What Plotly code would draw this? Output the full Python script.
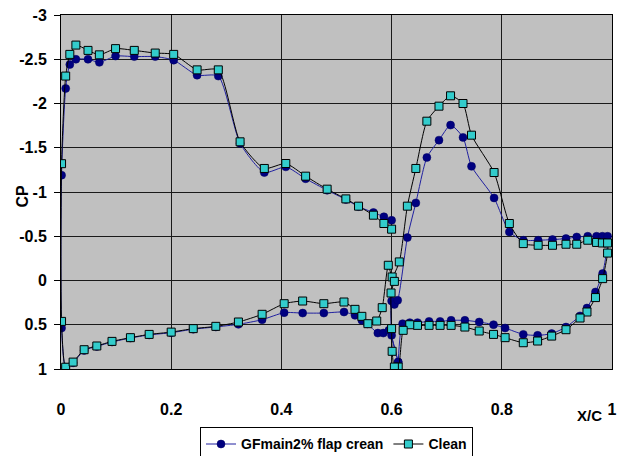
import plotly.graph_objects as go

# Pressure distribution (Cp vs x/c) on a two-element section: main element + flap.
# Each series is one continuous path: main upper (TE->LE), main lower (LE->TE), then the flap.

gf_x = [0.600, 0.586, 0.567, 0.540, 0.517, 0.483, 0.444, 0.408, 0.369, 0.325, 0.2855, 0.247,
        0.2045, 0.171, 0.133, 0.099, 0.0696, 0.049, 0.027, 0.016, 0.0085, 0.001,
        0.001, 0.0085, 0.022, 0.042, 0.065, 0.0926, 0.126, 0.160, 0.200, 0.240, 0.281, 0.322,
        0.365, 0.405, 0.4386, 0.477, 0.5136, 0.5336, 0.546, 0.556, 0.575, 0.585, 0.595,
        0.612, 0.600, 0.600, 0.605, 0.611, 0.6286, 0.644, 0.664, 0.686, 0.707, 0.7296, 0.745,
        0.786, 0.8137, 0.839, 0.866, 0.892, 0.9165, 0.936, 0.956, 0.972, 0.9825, 0.992,
        0.983, 0.970, 0.9546, 0.942, 0.9165, 0.8905, 0.865, 0.839, 0.806, 0.785, 0.759, 0.733,
        0.708, 0.688, 0.668, 0.647, 0.633, 0.620, 0.612]
gf_cp = [-0.68, -0.72, -0.768, -0.835, -0.915, -1.02, -1.15, -1.284, -1.22, -1.55, -2.31, -2.32,
         -2.49, -2.53, -2.53, -2.536, -2.465, -2.50, -2.50, -2.44, -2.17, -1.19,
         0.537, 0.98, 0.93, 0.79, 0.745, 0.695, 0.65, 0.615, 0.59, 0.55, 0.525, 0.495,
         0.443, 0.363, 0.368, 0.368, 0.356, 0.394, 0.45, 0.49, 0.594, 0.594, 0.563,
         0.922, 0.62, 0.232, 0.27, 0.224, -0.485, -0.877, -1.39, -1.586, -1.756, -1.617, -1.29,
         -0.933, -0.549, -0.455, -0.455, -0.462, -0.474, -0.492, -0.50, -0.50, -0.50, -0.50,
         -0.078, 0.13, 0.311, 0.40, 0.526, 0.60, 0.62, 0.609, 0.537, 0.499, 0.469, 0.45,
         0.45, 0.462, 0.462, 0.476, 0.476, 0.488, 0.922]

clean_x = [0.600, 0.586, 0.567, 0.540, 0.517, 0.483, 0.444, 0.408, 0.369, 0.325, 0.2855, 0.247,
           0.2045, 0.171, 0.133, 0.099, 0.0696, 0.049, 0.027, 0.016, 0.0085, 0.001,
           0.001, 0.0085, 0.022, 0.042, 0.065, 0.0926, 0.126, 0.160, 0.200, 0.240, 0.281, 0.322,
           0.365, 0.405, 0.4386, 0.477, 0.5136, 0.5336, 0.546, 0.557, 0.573, 0.583, 0.594,
           0.601, 0.614, 0.6286, 0.644, 0.664, 0.686, 0.707, 0.7296, 0.745, 0.786, 0.8137,
           0.839, 0.866, 0.892, 0.9165, 0.936, 0.956, 0.972, 0.9825, 0.992, 0.992,
           0.983, 0.970, 0.9546, 0.942, 0.9165, 0.8905, 0.865, 0.839, 0.806, 0.785, 0.759, 0.733,
           0.708, 0.688, 0.668, 0.647, 0.633, 0.621, 0.612, 0.605, 0.601, 0.600, 0.599, 0.605]
clean_cp = [-0.58, -0.644, -0.738, -0.84, -0.922, -1.032, -1.179, -1.322, -1.266, -1.567, -2.38, -2.38,
            -2.555, -2.57, -2.60, -2.62, -2.55, -2.60, -2.66, -2.555, -2.31, -1.32,
            0.462, 0.98, 0.922, 0.782, 0.74, 0.688, 0.646, 0.609, 0.583, 0.544, 0.518, 0.469,
            0.382, 0.262, 0.232, 0.262, 0.243, 0.326, 0.405, 0.488, 0.458, 0.307, -0.172,
            -0.04, -0.21, -0.84, -1.266, -1.80, -1.97, -2.087, -2.0, -1.642, -1.22, -0.644,
            -0.417, -0.398, -0.398, -0.41, -0.41, -0.455, -0.43, -0.424, -0.424, -0.31,
            -0.021, 0.193, 0.356, 0.424, 0.556, 0.628, 0.684, 0.703, 0.646, 0.609, 0.571, 0.526,
            0.507, 0.507, 0.507, 0.507, 0.50, 0.563, 0.978, 0.978, 0.80, 0.544, 0.141, 0.01]

x_ticks = [0, 0.2, 0.4, 0.6, 0.8, 1]
x_tick_text = ["0", "0.2", "0.4", "0.6", "0.8", "1"]
y_ticks = [-3, -2.5, -2, -1.5, -1, -0.5, 0, 0.5, 1]
y_tick_text = ["-3", "-2.5", "-2", "-1.5", "-1", "-0.5", "0", "0.5", "1"]

FONT = "Liberation Sans, Arial, sans-serif"

fig = go.Figure()
fig.add_trace(go.Scatter(
    x=gf_x, y=gf_cp, name="GFmain2% flap crean", mode="lines+markers",
    line=dict(color="#2020A0", width=1, shape="spline", smoothing=0.6),
    marker=dict(symbol="circle", size=8, color="#000080", line=dict(color="#000060", width=0.5)),
))
fig.add_trace(go.Scatter(
    x=clean_x, y=clean_cp, name="Clean", mode="lines+markers",
    line=dict(color="#000000", width=1, shape="spline", smoothing=0.6),
    marker=dict(symbol="square", size=8, color="#33CCCC", line=dict(color="#000000", width=1)),
))

fig.update_layout(
    width=631, height=456,
    margin=dict(l=61, r=19, t=15, b=87, autoexpand=False),
    paper_bgcolor="white", plot_bgcolor="#C0C0C0",
    font=dict(family=FONT, size=16, color="black", weight="bold"),
    showlegend=True,
    legend=dict(orientation="h", x=0.5, xanchor="center", y=-0.165, yanchor="top",
                bordercolor="black", borderwidth=1, bgcolor="white",
                font=dict(family=FONT, size=14, color="black", weight="bold"),
                itemwidth=30, tracegroupgap=0),
)
fig.update_xaxes(
    range=[0, 1], tickvals=x_ticks, ticktext=x_tick_text,
    showgrid=True, gridcolor="#1a1a1a", gridwidth=1,
    showline=True, linecolor="black", linewidth=1, mirror=True,
    zeroline=False, ticks="", ticklabelstandoff=26,
    tickfont=dict(family=FONT, size=16, color="black", weight="bold"),
)
fig.update_yaxes(
    range=[1, -3], tickvals=y_ticks, ticktext=y_tick_text,
    showgrid=True, gridcolor="#1a1a1a", gridwidth=1,
    showline=True, linecolor="black", linewidth=1, mirror=True,
    zeroline=False, ticks="outside", ticklen=6, tickcolor="black", ticklabelstandoff=4,
    tickfont=dict(family=FONT, size=16, color="black", weight="bold"),
)
fig.add_annotation(text="CP", xref="paper", yref="paper", x=-0.069, y=0.49,
                   xanchor="center", yanchor="middle",
                   textangle=-90, showarrow=False,
                   font=dict(family=FONT, size=16, color="black", weight="bold"))
fig.add_annotation(text="X/C", xref="paper", yref="paper", x=0.96, y=-0.13,
                   xanchor="center", yanchor="middle", showarrow=False,
                   font=dict(family=FONT, size=15, color="black", weight="bold"))

fig.write_html("out.html")
